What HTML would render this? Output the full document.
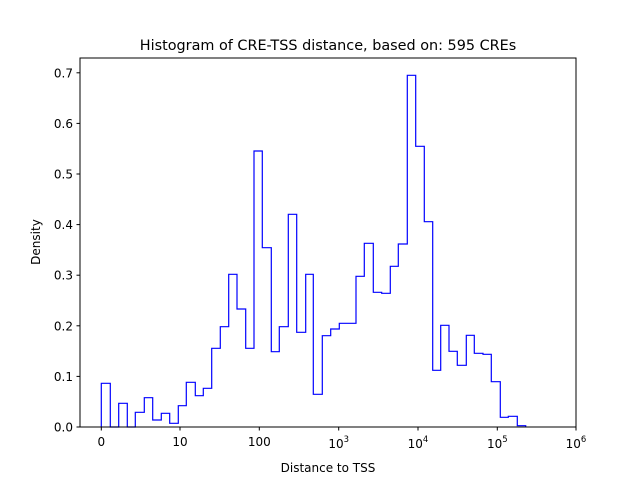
<!DOCTYPE html>
<html><head><meta charset="utf-8"><style>
body{margin:0;background:#fff;}
svg{display:block;font-family:"DejaVu Sans","Liberation Sans",sans-serif;}
</style></head><body>
<svg width="640" height="480" viewBox="0 0 640 480" xmlns="http://www.w3.org/2000/svg">
<rect width="640" height="480" fill="#fff"/>
<text x="328" y="50" font-size="14.4" text-anchor="middle">Histogram of CRE-TSS distance, based on: 595 CREs</text>
<path fill="none" stroke="#0000ff" stroke-width="1.2" d="M101.3,427 V383.3 H110.3 V427 H118.7 V403.3 H127.3 V427 H135.3 V412.3 H144.3 V397.7 H152.7 V420 H161.3 V413.3 H169.7 V423.3 H178.3 V405.7 H186.3 V382.3 H195.3 V395.7 H203.3 V388.3 H211.7 V348.3 H220.3 V326.7 H228.7 V274.3 H237 V309 H245.7 V348.3 H254 V151 H262.3 V247.7 H271.3 V351.7 H279.3 V326.7 H288.3 V214.3 H296.7 V332.3 H305.7 V274.3 H313.3 V394.3 H322.3 V335.7 H330.7 V329 H339.3 V323.3 H356 V276.3 H364.3 V243.3 H373.3 V292.3 H381.7 V293.3 H390.3 V266.3 H398.3 V244 H407.3 V75.3 H415.7 V146.3 H424.3 V221.7 H432.7 V370.3 H440.7 V325.3 H449 V351.3 H457.3 V365.3 H466.3 V335.3 H474.3 V353.3 H483 V354.3 H491.3 V381.7 H500.3 V417.3 H508.3 V416.3 H517.3 V425.7 H525.7 V427"/>
<rect x="80" y="58" width="496" height="369" fill="none" stroke="#000" stroke-width="1"/>
<g stroke="#000" stroke-width="1">
<line x1="80" y1="427" x2="76.5" y2="427"/><line x1="80" y1="376.4" x2="76.5" y2="376.4"/><line x1="80" y1="325.8" x2="76.5" y2="325.8"/><line x1="80" y1="275.2" x2="76.5" y2="275.2"/><line x1="80" y1="224.6" x2="76.5" y2="224.6"/><line x1="80" y1="174" x2="76.5" y2="174"/><line x1="80" y1="123.4" x2="76.5" y2="123.4"/><line x1="80" y1="72.8" x2="76.5" y2="72.8"/>
<line x1="101.3" y1="427" x2="101.3" y2="430.5"/><line x1="180" y1="427" x2="180" y2="430.5"/><line x1="259.3" y1="427" x2="259.3" y2="430.5"/><line x1="338.7" y1="427" x2="338.7" y2="430.5"/><line x1="418" y1="427" x2="418" y2="430.5"/><line x1="497.3" y1="427" x2="497.3" y2="430.5"/><line x1="576" y1="427" x2="576" y2="430.5"/>
</g>
<g font-size="12" text-anchor="end">
<text x="73" y="431.5">0.0</text><text x="73" y="380.9">0.1</text><text x="73" y="330.3">0.2</text><text x="73" y="279.7">0.3</text><text x="73" y="229.1">0.4</text><text x="73" y="178.5">0.5</text><text x="73" y="127.9">0.6</text><text x="73" y="77.3">0.7</text>
</g>
<g font-size="12" text-anchor="middle">
<text x="101.3" y="446">0</text><text x="180" y="446">10</text><text x="259.3" y="446">100</text>
<text x="338.7" y="448">10<tspan font-size="8.5" dy="-6">3</tspan></text>
<text x="418" y="448">10<tspan font-size="8.5" dy="-6">4</tspan></text>
<text x="497.3" y="448">10<tspan font-size="8.5" dy="-6">5</tspan></text>
<text x="576" y="448">10<tspan font-size="8.5" dy="-6">6</tspan></text>
<text x="328" y="472">Distance to TSS</text>
<text x="0" y="0" transform="translate(40,242) rotate(-90)">Density</text>
</g>
</svg>
</body></html>
